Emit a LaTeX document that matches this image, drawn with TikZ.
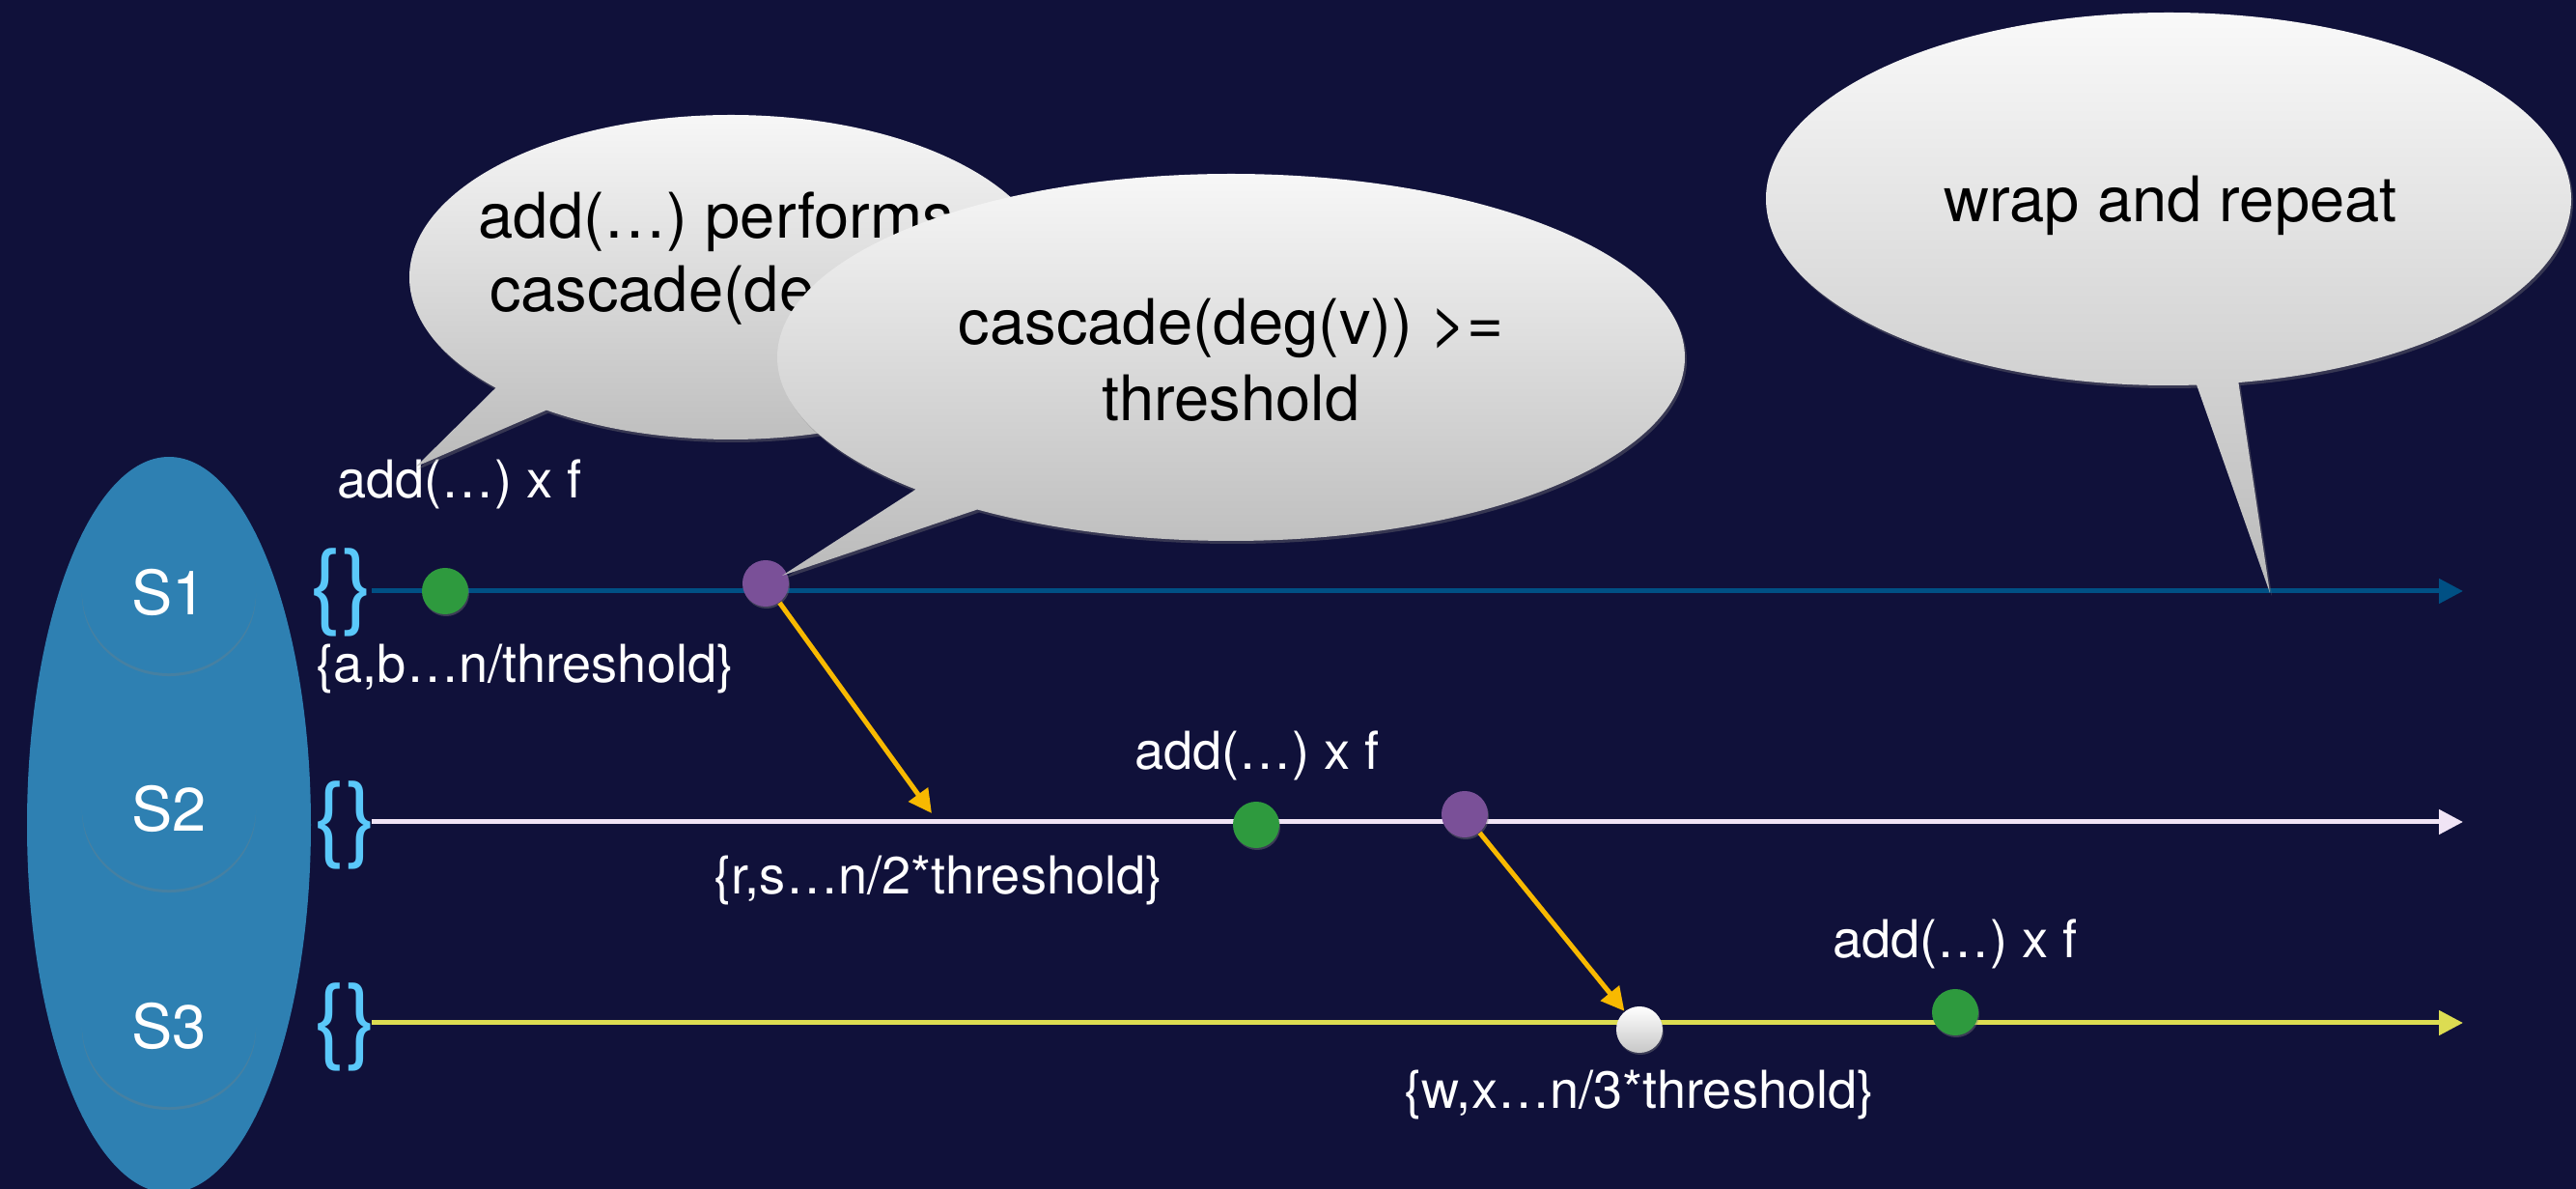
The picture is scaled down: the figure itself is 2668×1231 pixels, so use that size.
\documentclass[tikz,border=0pt]{standalone}
\usepackage{fontspec}
\setmainfont{TeX Gyre Heros}
\usetikzlibrary{arrows.meta,shadows,shapes.geometric}

\definecolor{bg}{RGB}{16,17,58}
\definecolor{server}{RGB}{46,128,178}
\definecolor{lineone}{RGB}{0,80,132}
\definecolor{linetwo}{RGB}{240,228,245}
\definecolor{linethree}{RGB}{220,220,82}
\definecolor{bracecol}{RGB}{90,200,250}
\definecolor{dotgreen}{RGB}{46,154,62}
\definecolor{dotpurple}{RGB}{122,80,152}
\definecolor{flow}{RGB}{248,185,0}

\begin{document}
\begin{tikzpicture}[x=0.01cm,y=0.01cm,
  shard/.style={ellipse, minimum width=1.8cm, minimum height=1.68cm, inner sep=0,
    fill=server, text=white, font=\fontsize{18pt}{21pt}\selectfont,
    drop shadow={opacity=0.3, shadow xshift=0cm, shadow yshift=-0.03cm}},
  timeline/.style={line width=0.05cm, -{Triangle[length=0.25cm,width=0.25cm]}},
  bracemark/.style={inner sep=0, text=bracecol, font=\fontsize{27.6pt}{30pt}\selectfont},
  lbl/.style={anchor=base, inner sep=0, text=white, font=\fontsize{15.4pt}{18pt}\selectfont},
  bubtext/.style={anchor=base, inner sep=0, text=black, font=\fontsize{18.5pt}{22pt}\selectfont},
  event/.style={circle, minimum size=0.48cm, inner sep=0,
    drop shadow={opacity=0.4, shadow xshift=0.01cm, shadow yshift=-0.02cm}},
  gdot/.style={event, fill=dotgreen},
  pdot/.style={event, fill=dotpurple},
  wdot/.style={event, top color=white, bottom color=black!22},
  yarrow/.style={draw=flow, line width=0.05cm, -{Triangle[length=0.24cm,width=0.24cm]}},
  bubble/.style={top color=black!2, bottom color=black!27,
    drop shadow={opacity=0.35, shadow xshift=0.02cm, shadow yshift=-0.03cm}}
]
\useasboundingbox (0,0) rectangle (2668,-1231);
\fill[bg] (0,0) rectangle (2668,-1231);

% server group
\begin{scope}
  \clip (0,0) rectangle (2668,-1231);
  \fill[server] (175,-854) ellipse [x radius=147, y radius=381];
\end{scope}
\node[shard] (s1) at (175,-613) {S1};
\node[shard] (s2) at (175,-837) {S2};
\node[shard] (s3) at (175,-1062) {S3};

% timelines
\coordinate (l1a) at (385,-612);
\coordinate (l1b) at (2551,-612);
\coordinate (l2a) at (385,-851);
\coordinate (l2b) at (2551,-851);
\coordinate (l3a) at (385,-1059);
\coordinate (l3b) at (2551,-1059);
\draw[timeline, lineone] (l1a) -- (l1b);
\draw[timeline, linetwo] (l2a) -- (l2b);
\draw[timeline, linethree] (l3a) -- (l3b);

% empty sets at the start of each timeline
\node[bracemark] (b1) at (354,-613) {\{\}};
\node[bracemark] (b2) at (358,-854) {\{\}};
\node[bracemark] (b3) at (358,-1063) {\{\}};

% labels
\node[lbl] (a1) at (476,-516) {add(…) x f};
\node[lbl] (set1) at (544,-707) {\{a,b…n/threshold\}};
\node[lbl] (a2) at (1302,-797) {add(…) x f};
\node[lbl] (set2) at (972,-926) {\{r,s…n/2*threshold\}};
\node[lbl] (a3) at (2025,-992) {add(…) x f};
\node[lbl] (set3) at (1698,-1148) {\{w,x…n/3*threshold\}};

% events
\node[gdot] (g1) at (461,-612) {};
\node[pdot] (p1) at (793,-604) {};
\node[gdot] (g2) at (1301,-854) {};
\node[pdot] (p2) at (1517,-843) {};
\node[wdot] (w1) at (1698,-1066) {};
\node[gdot] (g3) at (2025,-1048) {};

% cascades
\coordinate (t1) at (965,-842);
\draw[yarrow] (p1) -- (t1);
\draw[yarrow] (p2) -- (w1);

% callouts
\path[bubble] (431,-483) -- ([shift={(757,-287)}]223:333 and 168)
  arc[start angle=223, end angle=-125, x radius=333, y radius=168] -- cycle;
\node[bubtext] (c1a) at (742,-247) {add(…) performs};
\node[bubtext] (c1b) at (742,-323) {cascade(deg(v))};

\path[bubble] (810,-596) -- ([shift={(1275,-370)}]226:470 and 190)
  arc[start angle=226, end angle=-124, x radius=470, y radius=190] -- cycle;
\node[bubtext] (c2a) at (1275,-357) {cascade(deg(v)) >=};
\node[bubtext] (c2b) at (1275,-436) {threshold};

\path[bubble] (2351,-614) -- ([shift={(2246,-206)}]274:417 and 193)
  arc[start angle=274, end angle=-80, x radius=417, y radius=193] -- cycle;
\node[bubtext] (c3) at (2248,-230) {wrap and repeat};
\end{tikzpicture}
\end{document}
